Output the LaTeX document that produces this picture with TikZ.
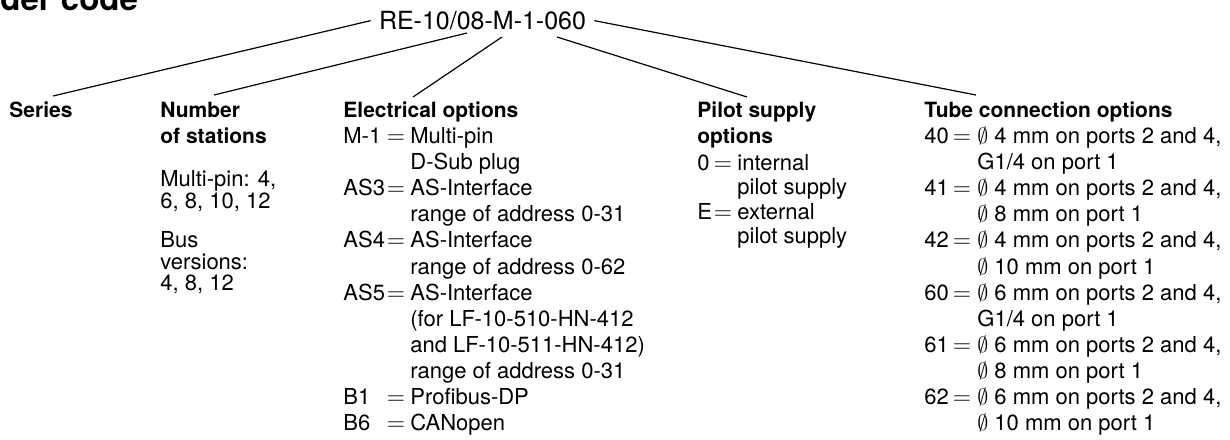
\documentclass[tikz,border=0pt]{standalone}
\usepackage[no-math]{fontspec}
\setmainfont{TeX Gyre Heros}
\usetikzlibrary{calc}

\begin{document}
\begin{tikzpicture}[x=0.5pt,y=-0.5pt,
    txt/.style={inner sep=0pt,anchor=base west,font=\fontsize{11}{13}\selectfont},
    eq/.style={inner sep=0pt,anchor=base,font=\fontsize{12}{14}\selectfont},
    head/.style={inner sep=0pt,anchor=base west,font=\fontsize{10.5}{12}\selectfont\bfseries},
    link/.style={line width=0.6pt}]
        \useasboundingbox (0,0) rectangle (1230,439);
        \clip (0,0) rectangle (1230,439);
        % heading, cut at the top
        \node[inner sep=0pt,anchor=base west,font=\fontsize{16.5}{18}\selectfont\bfseries] (title) at (0,10.5) {der code};
        \node[anchor=base,inner xsep=4pt,inner ysep=0pt,font=\fontsize{12.5}{14}\selectfont] (code) at (482.5,29.5) {RE-10/08-M-1-060};
        % column heads
        \node[head] (series) at (9,117) {Series};
        \node[head] (number) at (160,117) {Number};
        \node[head] (number2) at (160,143) {of stations};
        \node[head] (elec) at (343,117) {Electrical options};
        \node[head] (pilot) at (697,117) {Pilot supply};
        \node[head] (pilot2) at (697,143) {options};
        \node[head] (tube) at (924,117) {Tube connection options};
        % connectors
        \draw[link] (code.west) -- ($(series.base west)+(44,-21)$);
        \draw[link] ($(code.base)+(-15.5,3.5)$) -- ($(number.base west)+(54,-22)$);
        \draw[link] ($(code.base)+(19.5,7.5)$) -- ($(elec.base west)+(70,-20)$);
        \draw[link] ($(code.base)+(74.5,7.5)$) -- ($(pilot.base west)+(50,-20)$);
        \draw[link] (code.east) -- ($(tube.base west)+(52,-22)$);
        % number of stations
        \node[txt] (mp1) at (160,186) {Multi-pin: 4,};
        \node[txt] (mp2) at (160,208) {6, 8, 10, 12};
        \node[txt] (bus1) at (160,247) {Bus};
        \node[txt] (bus2) at (160,269) {versions:};
        \node[txt] (bus3) at (160,290) {4, 8, 12};
        % electrical options
        \node[txt] (elab0) at (343,143) {M-1};
        \node[eq] (eeq0) at (396,143) {$=$};
        \node[txt] (el0) at (410,143) {Multi-pin};
        \node[txt] (el1) at (410,169) {D-Sub plug};
        \node[txt] (elab2) at (343,195) {AS3};
        \node[eq] (eeq2) at (396,195) {$=$};
        \node[txt] (el2) at (410,195) {AS-Interface};
        \node[txt] (el3) at (410,221) {range of address 0-31};
        \node[txt] (elab4) at (343,247) {AS4};
        \node[eq] (eeq4) at (396,247) {$=$};
        \node[txt] (el4) at (410,247) {AS-Interface};
        \node[txt] (el5) at (410,274) {range of address 0-62};
        \node[txt] (elab6) at (343,300) {AS5};
        \node[eq] (eeq6) at (396,300) {$=$};
        \node[txt] (el6) at (410,300) {AS-Interface};
        \node[txt] (el7) at (410,326) {(for LF-10-510-HN-412};
        \node[txt] (el8) at (410,352) {and LF-10-511-HN-412)};
        \node[txt] (el9) at (410,378) {range of address 0-31};
        \node[txt] (elab10) at (343,404) {B1};
        \node[eq] (eeq10) at (396,404) {$=$};
        \node[txt] (el10) at (410,404) {Profibus-DP};
        \node[txt] (elab11) at (343,430) {B6};
        \node[eq] (eeq11) at (396,430) {$=$};
        \node[txt] (el11) at (410,430) {CANopen};
        % pilot supply options
        \node[txt] (plab0) at (697,170) {0};
        \node[eq] (peq0) at (723,170) {$=$};
        \node[txt] (pi0) at (737,170) {internal};
        \node[txt] (pi1) at (737,194) {pilot supply};
        \node[txt] (plab2) at (697,219) {E};
        \node[eq] (peq2) at (723,219) {$=$};
        \node[txt] (pi2) at (737,219) {external};
        \node[txt] (pi3) at (737,243) {pilot supply};
        % tube connection options
        \node[txt] (tlab0) at (924,143) {40};
        \node[eq] (teq0) at (962,143) {$=$};
        \node[txt] (tu0) at (977,143) {$\emptyset$ 4 mm on ports 2 and 4,};
        \node[txt] (tu1) at (977,169) {G1/4 on port 1};
        \node[txt] (tlab2) at (924,195) {41};
        \node[eq] (teq2) at (962,195) {$=$};
        \node[txt] (tu2) at (977,195) {$\emptyset$ 4 mm on ports 2 and 4,};
        \node[txt] (tu3) at (977,221) {$\emptyset$ 8 mm on port 1};
        \node[txt] (tlab4) at (924,247) {42};
        \node[eq] (teq4) at (962,247) {$=$};
        \node[txt] (tu4) at (977,247) {$\emptyset$ 4 mm on ports 2 and 4,};
        \node[txt] (tu5) at (977,274) {$\emptyset$ 10 mm on port 1};
        \node[txt] (tlab6) at (924,300) {60};
        \node[eq] (teq6) at (962,300) {$=$};
        \node[txt] (tu6) at (977,300) {$\emptyset$ 6 mm on ports 2 and 4,};
        \node[txt] (tu7) at (977,326) {G1/4 on port 1};
        \node[txt] (tlab8) at (924,352) {61};
        \node[eq] (teq8) at (962,352) {$=$};
        \node[txt] (tu8) at (977,352) {$\emptyset$ 6 mm on ports 2 and 4,};
        \node[txt] (tu9) at (977,378) {$\emptyset$ 8 mm on port 1};
        \node[txt] (tlab10) at (924,404) {62};
        \node[eq] (teq10) at (962,404) {$=$};
        \node[txt] (tu10) at (977,404) {$\emptyset$ 6 mm on ports 2 and 4,};
        \node[txt] (tu11) at (977,430) {$\emptyset$ 10 mm on port 1};
\end{tikzpicture}
\end{document}
